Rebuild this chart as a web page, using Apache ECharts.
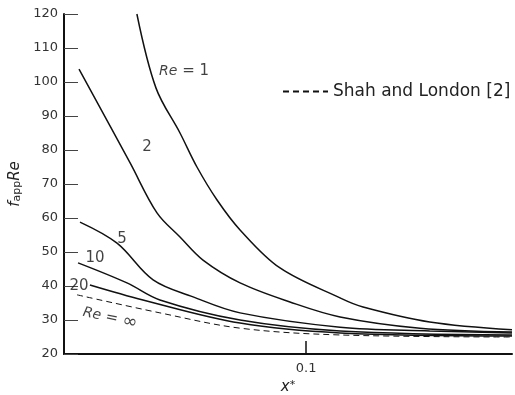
<!DOCTYPE html>
<html>
<head>
<meta charset="utf-8">
<script src="https://cdn.jsdelivr.net/npm/echarts@6/dist/echarts.min.js"></script>
<style>
  html, body { margin: 0; padding: 0; background: #fff; }
  #chart { width: 515px; height: 395px; }
</style>
</head>
<body>
<div id="chart"></div>
<script>
// curves: [x*, f_app Re]
const re1 = [[0.0301, 120], [0.038, 98.2], [0.0479, 85.0], [0.0549, 75.0], [0.0632, 65.3], [0.0727, 56.5], [0.0892, 45.3], [0.114, 36.5], [0.1235, 33.8], [0.151, 29.4], [0.185, 27.1]];
const re2 = [[0.0062, 103.8], [0.0273, 76.2], [0.0384, 61.5], [0.0479, 54.4], [0.0574, 47.6], [0.0727, 40.9], [0.0933, 35.3], [0.114, 30.9], [0.147, 27.6], [0.185, 26.5]];
const re5 = [[0.0066, 58.8], [0.0219, 52.6], [0.0368, 41.8], [0.0533, 36.8], [0.0727, 32.1], [0.114, 27.9], [0.151, 26.8], [0.185, 26.2]];
const re10 = [[0.0058, 46.8], [0.026, 40.9], [0.0396, 35.9], [0.0727, 30.0], [0.114, 26.8], [0.185, 25.6]];
const re20 = [[0.0107, 40.3], [0.0326, 35.9], [0.0727, 29.1], [0.114, 26.2], [0.185, 25.3]];
const shahLondon = [[0.0054, 37.4], [0.0396, 32.1], [0.0727, 27.6], [0.114, 25.6], [0.185, 25.0]];

const xTicks = [0.1];
// curve labels: [x*, f_app Re, text, rotate]
const curveLabels = [
  [0.0496, 103.2, '{i|Re} = 1', 0],
  [0.0343, 80.9, '2', 0],
  [0.024, 53.8, '5', 0],
  [0.0128, 48.2, '10', 0],
  [0.0062, 40.0, '20', 0],
  [0.019, 30.6, '{i|Re} = {b|∞}', -12]
];

const chart = echarts.init(document.getElementById('chart'));
const font = 'DejaVu Sans';

function curve(name, data, dashed) {
  return {
    name: name,
    type: 'line',
    data: data,
    smooth: 0.35,
    symbol: 'none',
    silent: true,
    itemStyle: { color: '#111' },
    lineStyle: {
      color: '#111',
      width: dashed ? 1 : 1.5,
      type: dashed ? [6, 4] : 'solid'
    }
  };
}

chart.setOption({
  animation: false,
  backgroundColor: '#fff',
  textStyle: { fontFamily: font, color: '#222' },
  grid: { left: 64, right: 3, top: 14, bottom: 41, containLabel: false, outerBoundsMode: 'none' },
  legend: {
    data: ['Shah and London [2]'],
    left: 282,
    top: 83,
    padding: 0,
    itemWidth: 45,
    itemHeight: 14,
    itemGap: 5,
    itemStyle: { opacity: 0 },
    textStyle: { fontFamily: font, fontSize: 17, color: '#222' }
  },
  xAxis: {
    type: 'value',
    min: 0,
    max: 0.185,
    name: '{i|x}{s|*}',
    nameLocation: 'middle',
    nameGap: 24,
    nameTextStyle: {
      rich: {
        i: { fontFamily: font, fontStyle: 'italic', fontSize: 15, color: '#222' },
        s: { fontFamily: font, fontSize: 11, color: '#222', verticalAlign: 'top' }
      }
    },
    axisLine: { lineStyle: { color: '#111', width: 2 } },
    axisTick: { inside: true, length: 13, customValues: xTicks, lineStyle: { color: '#111', width: 1.5 } },
    axisLabel: { customValues: xTicks, formatter: v => v.toFixed(1), fontSize: 13, color: '#333', margin: 8 },
    splitLine: { show: false }
  },
  yAxis: {
    type: 'value',
    min: 20,
    max: 120,
    interval: 10,
    name: '{i|f}{sub|app}{i|Re}',
    nameLocation: 'middle',
    nameGap: 36,
    nameTextStyle: {
      rich: {
        i: { fontFamily: font, fontStyle: 'italic', fontSize: 15, color: '#222' },
        sub: { fontFamily: font, fontSize: 11, color: '#222', verticalAlign: 'bottom' }
      }
    },
    axisLine: { lineStyle: { color: '#111', width: 2 } },
    axisTick: { inside: true, length: 14, lineStyle: { color: '#444', width: 1 } },
    axisLabel: { fontSize: 13, color: '#333', margin: 6 },
    splitLine: { show: false }
  },
  series: [
    curve('Re = 1', re1),
    curve('2', re2),
    curve('5', re5),
    curve('10', re10),
    curve('20', re20),
    curve('Shah and London [2]', shahLondon, true),
    {
      name: 'labels',
      type: 'scatter',
      silent: true,
      symbolSize: 0,
      data: curveLabels.map(d => ({
        value: [d[0], d[1]],
        label: { rotate: d[3] },
        text: d[2]
      })),
      label: {
        show: true,
        position: 'inside',
        align: 'center',
        verticalAlign: 'middle',
        fontFamily: font,
        fontSize: 15,
        color: '#111',
        formatter: p => p.data.text,
        rich: {
          i: { fontFamily: font, fontStyle: 'italic', fontSize: 14, color: '#111' },
          b: { fontFamily: font, fontSize: 18, color: '#111' }
        }
      }
    }
  ]
});
</script>
</body>
</html>
